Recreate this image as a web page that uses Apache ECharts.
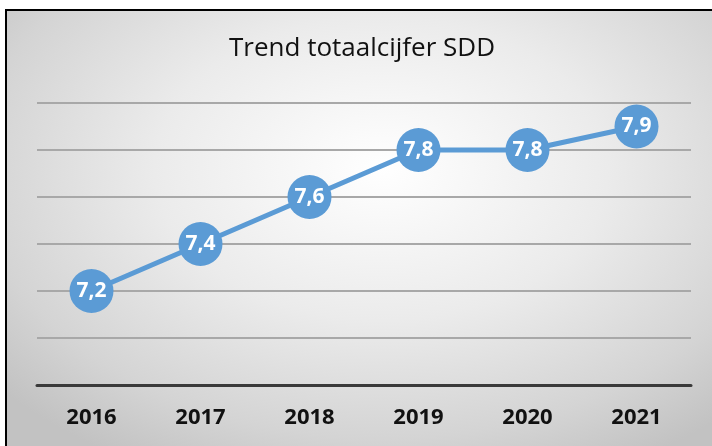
<!DOCTYPE html>
<html lang="nl">
<head>
<meta charset="UTF-8">
<title>Trend totaalcijfer SDD</title>
<style>
  html, body { margin: 0; padding: 0; background: #fff; overflow: hidden; }
  #frame {
    position: absolute; left: 5px; top: 9px; width: 720px; height: 450px;
    border: 2px solid #000;
    background: radial-gradient(ellipse 70% 75% at 52% 35%, #ffffff 0%, #ebebeb 45%, #d4d4d4 80%, #c2c2c2 100%);
  }
  #container { position: absolute; left: 0; top: 0; width: 712px; height: 446px; }
</style>
<script src="https://cdn.jsdelivr.net/npm/echarts@6/dist/echarts.min.js"></script>
</head>
<body>
<div id="frame"></div>
<div id="container"></div>
<script>
var years = ['2016', '2017', '2018', '2019', '2020', '2021'];
var scores = [7.2, 7.4, 7.6, 7.8, 7.8, 7.9];

var chart = echarts.init(document.getElementById('container'));
var option = {
  backgroundColor: 'transparent',
  animation: false,
  title: {
    text: 'Trend totaalcijfer SDD',
    left: 224,
    top: 31,
    textStyle: { fontFamily: 'Open Sans', fontWeight: 'normal', fontSize: 26, color: '#111' }
  },
  grid: { left: 37, top: 103, width: 654, height: 282 },
  xAxis: {
    type: 'category',
    data: years,
    boundaryGap: true,
    axisLine: { lineStyle: { color: '#3a3a3a', width: 3 } },
    axisTick: { show: false },
    axisLabel: { margin: 22, fontFamily: 'Open Sans', fontWeight: 'bold', fontSize: 22, color: '#111' }
  },
  yAxis: {
    type: 'value',
    min: 6.8,
    max: 8.0,
    interval: 0.2,
    axisLabel: { show: false },
    axisLine: { show: false },
    axisTick: { show: false },
    splitLine: { lineStyle: { color: '#a8a8a8', width: 2 } }
  },
  series: [{
    type: 'line',
    data: scores,
    symbol: 'circle',
    symbolSize: 44,
    itemStyle: { color: '#5b9bd5' },
    lineStyle: { color: '#5b9bd5', width: 5 },
    label: {
      show: true,
      position: 'inside',
      color: '#fff',
      fontFamily: 'Open Sans',
      fontWeight: 'bold',
      fontSize: 21,
      formatter: function (p) { return p.value.toFixed(1).replace('.', ','); }
    }
  }]
};
chart.setOption(option);
</script>
</body>
</html>
